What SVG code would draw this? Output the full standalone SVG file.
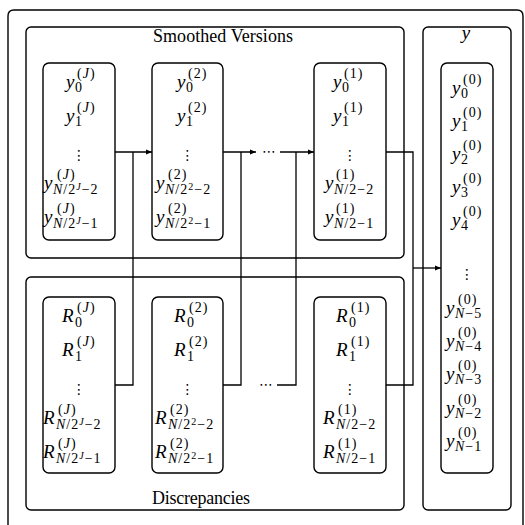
<svg xmlns="http://www.w3.org/2000/svg" width="525" height="525" viewBox="0 0 525 525">
<defs>
<style>
.frame{fill:none;stroke:#000;stroke-width:1.4}
.wire{fill:none;stroke:#000;stroke-width:1.3}
.m{font-family:"Liberation Serif",serif;font-style:italic;font-size:19px;fill:#000}
.s{font-size:14px;letter-spacing:1px}
.ss{font-size:10px;letter-spacing:1px}
.r{font-style:normal}
.lbl{font-family:"Liberation Serif",serif;font-size:18px;fill:#000}
.dots{font-family:"DejaVu Sans",sans-serif;font-size:14px;text-anchor:middle;fill:#000}
</style>
<marker id="ah" viewBox="0 0 10 10" refX="10" refY="5" markerWidth="7" markerHeight="6" orient="auto" markerUnits="userSpaceOnUse">
<path d="M0,1 L10,5 L0,9 z" fill="#000"/>
</marker>
</defs>
<rect width="525" height="525" fill="#fff"/>
<path id="outer" class="frame" d="M8,530 V16 Q8,10 14,10 H517 Q523,10 523,16 V530"/>

<g id="smoothed">
<rect class="frame" x="26" y="27" width="378" height="231" rx="5"/>
<text class="lbl" x="153" y="42" textLength="140" lengthAdjust="spacing">Smoothed Versions</text>
</g>
<g id="discrepancies">
<rect class="frame" x="26" y="277" width="378" height="233" rx="5"/>
<text class="lbl" x="152" y="504" textLength="98" lengthAdjust="spacing">Discrepancies</text>
</g>
<g id="yout">
<rect class="frame" x="423" y="27" width="88" height="483" rx="5"/>
<text class="m" x="466" y="39" text-anchor="middle">y</text>
</g>

<g id="yJ">
<rect class="frame" x="43" y="63" width="72" height="177" rx="6"/>
<text class="m" x="66" y="88">y<tspan class="s r" x="77" y="78">(</tspan><tspan class="s">J</tspan><tspan class="s r">)</tspan><tspan class="s r" x="75" y="92">0</tspan></text>
<text class="m" x="66" y="122">y<tspan class="s r" x="77" y="112">(</tspan><tspan class="s">J</tspan><tspan class="s r">)</tspan><tspan class="s r" x="75" y="126">1</tspan></text>
<text class="dots" x="79" y="160">⋮</text>
<text class="m" x="44" y="189">y<tspan class="s r" x="57" y="179">(</tspan><tspan class="s">J</tspan><tspan class="s r">)</tspan><tspan class="s" x="53" y="194">N</tspan><tspan class="s r">/2</tspan><tspan class="ss" dy="-4">J</tspan><tspan class="s r" dy="4">−2</tspan></text>
<text class="m" x="44" y="223">y<tspan class="s r" x="57" y="213">(</tspan><tspan class="s">J</tspan><tspan class="s r">)</tspan><tspan class="s" x="53" y="228">N</tspan><tspan class="s r">/2</tspan><tspan class="ss" dy="-4">J</tspan><tspan class="s r" dy="4">−1</tspan></text>
</g>

<g id="y2">
<rect class="frame" x="152" y="63" width="71" height="177" rx="6"/>
<text class="m" x="177" y="88">y<tspan class="s r" x="188" y="78">(2)</tspan><tspan class="s r" x="186" y="92">0</tspan></text>
<text class="m" x="177" y="122">y<tspan class="s r" x="188" y="112">(2)</tspan><tspan class="s r" x="186" y="126">1</tspan></text>
<text class="dots" x="187.5" y="160">⋮</text>
<text class="m" x="156" y="189">y<tspan class="s r" x="168" y="179">(2)</tspan><tspan class="s" x="165" y="194">N</tspan><tspan class="s r">/2</tspan><tspan class="ss r" dy="-4">2</tspan><tspan class="s r" dy="4">−2</tspan></text>
<text class="m" x="156" y="223">y<tspan class="s r" x="168" y="213">(2)</tspan><tspan class="s" x="165" y="228">N</tspan><tspan class="s r">/2</tspan><tspan class="ss r" dy="-4">2</tspan><tspan class="s r" dy="4">−1</tspan></text>
</g>

<g id="y1">
<rect class="frame" x="314" y="63" width="72" height="177" rx="6"/>
<text class="m" x="333" y="88">y<tspan class="s r" x="344" y="78">(1)</tspan><tspan class="s r" x="342" y="92">0</tspan></text>
<text class="m" x="333" y="122">y<tspan class="s r" x="344" y="112">(1)</tspan><tspan class="s r" x="342" y="126">1</tspan></text>
<text class="dots" x="350" y="160">⋮</text>
<text class="m" x="325" y="189">y<tspan class="s r" x="336" y="179">(1)</tspan><tspan class="s" x="334" y="194">N</tspan><tspan class="s r">/2−2</tspan></text>
<text class="m" x="325" y="223">y<tspan class="s r" x="336" y="213">(1)</tspan><tspan class="s" x="334" y="228">N</tspan><tspan class="s r">/2−1</tspan></text>
</g>

<g id="RJ">
<rect class="frame" x="43" y="297" width="72" height="176" rx="6"/>
<text class="m" x="62" y="322">R<tspan class="s r" x="77" y="312">(</tspan><tspan class="s">J</tspan><tspan class="s r">)</tspan><tspan class="s r" x="75" y="327">0</tspan></text>
<text class="m" x="62" y="356">R<tspan class="s r" x="77" y="346">(</tspan><tspan class="s">J</tspan><tspan class="s r">)</tspan><tspan class="s r" x="75" y="361">1</tspan></text>
<text class="dots" x="79" y="394">⋮</text>
<text class="m" x="43" y="424">R<tspan class="s r" x="58" y="414">(</tspan><tspan class="s">J</tspan><tspan class="s r">)</tspan><tspan class="s" x="56" y="429">N</tspan><tspan class="s r">/2</tspan><tspan class="ss" dy="-4">J</tspan><tspan class="s r" dy="4">−2</tspan></text>
<text class="m" x="43" y="458">R<tspan class="s r" x="58" y="448">(</tspan><tspan class="s">J</tspan><tspan class="s r">)</tspan><tspan class="s" x="56" y="463">N</tspan><tspan class="s r">/2</tspan><tspan class="ss" dy="-4">J</tspan><tspan class="s r" dy="4">−1</tspan></text>
</g>

<g id="R2">
<rect class="frame" x="152" y="297" width="71" height="176" rx="6"/>
<text class="m" x="174" y="322">R<tspan class="s r" x="189" y="312">(2)</tspan><tspan class="s r" x="187" y="327">0</tspan></text>
<text class="m" x="174" y="356">R<tspan class="s r" x="189" y="346">(2)</tspan><tspan class="s r" x="187" y="361">1</tspan></text>
<text class="dots" x="187.5" y="394">⋮</text>
<text class="m" x="155" y="424">R<tspan class="s r" x="170" y="414">(2)</tspan><tspan class="s" x="168" y="429">N</tspan><tspan class="s r">/2</tspan><tspan class="ss r" dy="-4">2</tspan><tspan class="s r" dy="4">−2</tspan></text>
<text class="m" x="155" y="458">R<tspan class="s r" x="170" y="448">(2)</tspan><tspan class="s" x="168" y="463">N</tspan><tspan class="s r">/2</tspan><tspan class="ss r" dy="-4">2</tspan><tspan class="s r" dy="4">−1</tspan></text>
</g>

<g id="R1">
<rect class="frame" x="314" y="297" width="72" height="176" rx="6"/>
<text class="m" x="336" y="322">R<tspan class="s r" x="351" y="312">(1)</tspan><tspan class="s r" x="349" y="327">0</tspan></text>
<text class="m" x="336" y="356">R<tspan class="s r" x="351" y="346">(1)</tspan><tspan class="s r" x="349" y="361">1</tspan></text>
<text class="dots" x="350" y="394">⋮</text>
<text class="m" x="323" y="424">R<tspan class="s r" x="338" y="414">(1)</tspan><tspan class="s" x="336" y="429">N</tspan><tspan class="s r">/2−2</tspan></text>
<text class="m" x="323" y="458">R<tspan class="s r" x="338" y="448">(1)</tspan><tspan class="s" x="336" y="463">N</tspan><tspan class="s r">/2−1</tspan></text>
</g>

<g id="y0">
<rect class="frame" x="441" y="63" width="52" height="410" rx="6"/>
<text class="m" x="452" y="94">y<tspan class="s r" x="463" y="84">(0)</tspan><tspan class="s r" x="461" y="98">0</tspan></text>
<text class="m" x="452" y="127">y<tspan class="s r" x="463" y="117">(0)</tspan><tspan class="s r" x="461" y="131">1</tspan></text>
<text class="m" x="452" y="160">y<tspan class="s r" x="463" y="150">(0)</tspan><tspan class="s r" x="461" y="164">2</tspan></text>
<text class="m" x="452" y="193">y<tspan class="s r" x="463" y="183">(0)</tspan><tspan class="s r" x="461" y="197">3</tspan></text>
<text class="m" x="452" y="226">y<tspan class="s r" x="463" y="216">(0)</tspan><tspan class="s r" x="461" y="230">4</tspan></text>
<text class="dots" x="467" y="279">⋮</text>
<text class="m" x="446" y="314">y<tspan class="s r" x="458" y="304">(0)</tspan><tspan class="s" x="455" y="318">N</tspan><tspan class="s r">−5</tspan></text>
<text class="m" x="446" y="347">y<tspan class="s r" x="458" y="337">(0)</tspan><tspan class="s" x="455" y="351">N</tspan><tspan class="s r">−4</tspan></text>
<text class="m" x="446" y="380">y<tspan class="s r" x="458" y="370">(0)</tspan><tspan class="s" x="455" y="384">N</tspan><tspan class="s r">−3</tspan></text>
<text class="m" x="446" y="414">y<tspan class="s r" x="458" y="404">(0)</tspan><tspan class="s" x="455" y="418">N</tspan><tspan class="s r">−2</tspan></text>
<text class="m" x="446" y="447">y<tspan class="s r" x="458" y="437">(0)</tspan><tspan class="s" x="455" y="451">N</tspan><tspan class="s r">−1</tspan></text>
</g>

<g id="connectors">
<path class="wire" d="M115,152 H152" marker-end="url(#ah)"/>
<path class="wire" d="M133,152 V385 H115"/>
<path class="wire" d="M223,152 H256" marker-end="url(#ah)"/>
<path class="wire" d="M241,152 V385 H223"/>
<text class="dots" x="269" y="156">⋯</text>
<path class="wire" d="M280,152 H314" marker-end="url(#ah)"/>
<path class="wire" d="M296,152 V385 H277"/>
<text class="dots" x="266" y="389">⋯</text>
<path class="wire" d="M386,152 H413 V385 H386"/>
<path class="wire" d="M413,268 H441" marker-end="url(#ah)"/>
</g>
</svg>
